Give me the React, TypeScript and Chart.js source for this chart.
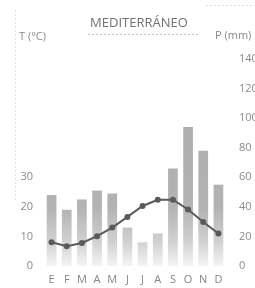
import React, { useEffect, useRef } from "react";
import { Chart, registerables } from "chart.js";

Chart.register(...registerables);

const months = ["E", "F", "M", "A", "M", "J", "J", "A", "S", "O", "N", "D"];
const precipitation = [48, 38, 45, 51, 49, 26, 16, 22, 66, 94, 78, 55];
const temperature = [8.0, 6.7, 7.8, 10.1, 13.0, 16.6, 20.3, 22.4, 22.4, 19.1, 14.9, 11.0];
const tempTicks = [0, 10, 20, 30];
const title = "MEDITERRÁNEO";
const tempLabel = "T (°C)";
const precLabel = "P (mm)";

const FONT = "'Open Sans', 'DejaVu Sans', sans-serif";

const overlayPlugin = {
  id: "overlayTexts",
  afterDraw(chart: any) {
    const ctx = chart.ctx;
    ctx.save();
    ctx.fillStyle = "#727272";
    ctx.font = `13px ${FONT}`;
    ctx.textAlign = "center";
    ctx.textBaseline = "middle";
    ctx.fillText(title, 139, 23);
    ctx.strokeStyle = "#c4c4c4";
    ctx.setLineDash([2, 2]);
    ctx.lineWidth = 1;
    ctx.beginPath();
    ctx.moveTo(88, 34.5);
    ctx.lineTo(200, 34.5);
    ctx.stroke();
    ctx.strokeStyle = "#e2e2e2";
    ctx.beginPath();
    ctx.moveTo(15.5, 10);
    ctx.lineTo(15.5, 200);
    ctx.stroke();
    ctx.beginPath();
    ctx.moveTo(206, 5.5);
    ctx.lineTo(255, 5.5);
    ctx.stroke();
    ctx.setLineDash([]);
    ctx.fillStyle = "#8a8a8a";
    ctx.font = `11px ${FONT}`;
    ctx.textAlign = "left";
    ctx.fillText(tempLabel, 19, 37);
    ctx.fillText(precLabel, 215, 36);
    ctx.restore();
  },
};

export default function App() {
  const ref = useRef<HTMLCanvasElement>(null);
  useEffect(() => {
    document.body.style.margin = "0";
    const canvas = ref.current!;
    const chart = new Chart(canvas, {
      data: {
        labels: months,
        datasets: [
          {
            type: "line",
            label: "T",
            data: temperature,
            yAxisID: "yT",
            borderColor: "#5a5a5a",
            backgroundColor: "#5a5a5a",
            borderWidth: 2,
            pointRadius: 3,
            pointBorderWidth: 0,
            pointBackgroundColor: "#5a5a5a",
            tension: 0,
            order: 0,
          } as any,
          {
            type: "bar",
            label: "P",
            data: precipitation,
            yAxisID: "yP",
            backgroundColor: (c: any) => {
              const area = c.chart.chartArea;
              if (!area) return "#b0b0b0";
              const g = c.chart.ctx.createLinearGradient(0, area.top, 0, area.bottom);
              g.addColorStop(0, "#a9a9a9");
              g.addColorStop(0.72, "#b3b3b3");
              g.addColorStop(0.88, "#d0d0d0");
              g.addColorStop(1, "#f4f4f4");
              return g;
            },
            barPercentage: 0.64,
            categoryPercentage: 1,
            order: 1,
          } as any,
        ],
      },
      options: {
        responsive: false,
        animation: false,
        layout: { padding: { top: 59, left: 0, right: 0, bottom: 0 } },
        plugins: {
          legend: { display: false },
          tooltip: { enabled: false },
          title: { display: false },
        },
        scales: {
          x: {
            grid: { display: false, drawTicks: false },
            border: { display: false },
            ticks: {
              color: "#858585",
              font: { family: FONT, size: 11 },
              padding: 7,
              autoSkip: false,
              maxRotation: 0,
              minRotation: 0,
            },
            afterFit: (s: any) => { s.height = 22; },
          },
          yT: {
            position: "left",
            min: 0,
            max: 70,
            grid: { display: false, drawTicks: false },
            border: { display: false },
            ticks: {
              stepSize: 10,
              color: "#8a8a8a",
              font: { family: FONT, size: 11 },
              padding: 11,
              callback: (v: any) => (tempTicks.includes(Number(v)) ? String(v) : ""),
            },
            afterFit: (s: any) => { s.width = 44; },
          },
          yP: {
            position: "right",
            min: 0,
            max: 140,
            grid: { display: false, drawTicks: false },
            border: { display: false },
            ticks: {
              stepSize: 20,
              color: "#8a8a8a",
              font: { family: FONT, size: 11 },
              padding: 13,
            },
            afterFit: (s: any) => { s.width = 29; },
          },
        },
      } as any,
      plugins: [overlayPlugin],
    });
    return () => chart.destroy();
  }, []);
  return (
    <div style={{ position: "absolute", left: 0, top: 0, width: 255, height: 288, background: "#fff" }}>
      <canvas ref={ref} width={255} height={288} />
    </div>
  );
}
